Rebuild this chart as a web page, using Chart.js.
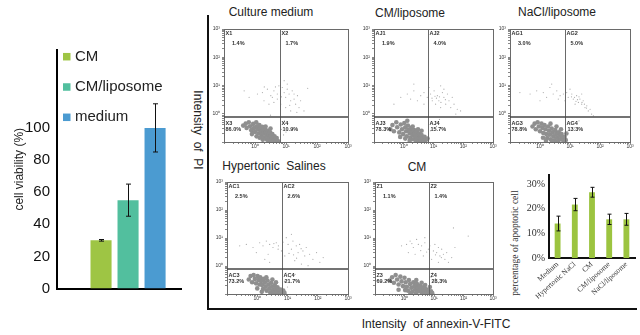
<!DOCTYPE html>
<html>
<head>
<meta charset="utf-8">
<title>Cell viability and apoptosis</title>
<script src="https://cdn.jsdelivr.net/npm/chart.js@4.4.1/dist/chart.umd.min.js"></script>
<style>
  html, body { margin: 0; padding: 0; background: #fff; }
  body { position: relative; width: 640px; height: 335px; overflow: hidden; font-family: "Liberation Sans", Arial, sans-serif; color: #222; }
  canvas { position: absolute; }
  .lbl { position: absolute; white-space: pre; transform: translate(-50%, -50%); font-size: 12px; line-height: 1; }
  .rule { position: absolute; background: #111; }
</style>
</head>
<body>
<div class="rule" style="left:207px;top:15px;width:2px;height:295px"></div>
<div class="rule" style="left:207px;top:308px;width:430px;height:2px"></div>
<div class="lbl" style="left:271px;top:12px">Culture medium</div>
<div class="lbl" style="left:410px;top:13px">CM/liposome</div>
<div class="lbl" style="left:557px;top:12px">NaCl/liposome</div>
<div class="lbl" style="left:274px;top:166px">Hypertonic  Salines</div>
<div class="lbl" style="left:417px;top:167px">CM</div>
<div class="lbl" style="left:198px;top:130px;transform:translate(-50%,-50%) rotate(90deg)">Intensity  of  PI</div>
<div class="lbl" style="left:436px;top:324px">Intensity  of annexin-V-FITC</div>
<div class="lbl" style="left:516px;top:243px;transform:translate(-50%,-50%) rotate(-90deg);font-family:'Liberation Serif',serif;font-size:9.5px;color:#333">percentage of apoptotic cell</div>
<script>
// ---- cell viability (left bar chart) ----
const viabilityLabels = ['CM', 'CM/liposome', 'medium'];
const viabilityValues = [30, 55, 100];
const viabilityErrors = [0.5, 10, 15];
const viabilityColors = ['#9ec544', '#52bf9e', '#4b9bd1'];
const viabilityTicks = [0, 20, 40, 60, 80, 100];

// ---- apoptosis inset bar chart ----
const insetLabels = ['Medium', 'Hypertonic NaCl', 'CM', 'CM/liposome', 'NaCl/liposome'];
const insetValues = [14, 21.7, 26.7, 15.7, 15.7];
const insetErrors = [3, 2.5, 2, 2.1, 2.4];
const insetTicks = [0, 5, 10, 15, 20, 25, 30];

// ---- flow cytometry plots, values in log10 units ----
const decadeValues = [0, 1, 2, 3];
const decadeLabels = ['10⁰', '10¹', '10²', '10³'];
const gateX = 0.82;
const gateY = -0.1;

const mediumNames = ['X1', 'X2', 'X3', 'X4'];
const mediumPct = ['1.4%', '1.7%', '86.0%', '10.9%'];
const mediumSparse = [[0.08,0.70],[0.24,0.75],[0.40,0.87],[0.51,0.64],[0.61,0.81],[0.72,0.70],[0.77,0.99],[0.88,0.93],[0.94,0.75],[0.99,0.58],[1.04,1.05],[1.10,0.70],[1.15,0.46],[1.20,0.81],[1.26,0.52],[1.31,0.34],[1.37,0.64],[1.42,0.22],[1.47,0.46],[0.29,0.46],[0.45,0.34],[0.61,0.40],[-0.35,0.81],[-0.19,0.58],[0.83,0.34],[0.99,0.22],[1.15,0.10],[1.26,0.70],[1.04,0.87],[0.94,1.17],[1.58,0.10],[0.56,0.58],[0.72,0.52],[0.95,-0.25],[1.05,-0.35],[1.35,0.05],[0.66,0.95],[1.12,0.30],[0.85,0.60],[0.30,0.95],[1.70,0.90],[0.50,-0.05],[0.85,-0.55],[0.92,-0.75],[1.00,-0.65]];
const mediumDense = [[-0.38,-0.42],[-0.30,-0.35],[-0.27,-0.50],[-0.20,-0.30],[-0.16,-0.44],[-0.12,-0.58],[-0.06,-0.36],[-0.03,-0.50],[0.00,-0.64],[0.04,-0.30],[0.06,-0.44],[0.09,-0.56],[0.11,-0.70],[0.14,-0.40],[0.16,-0.52],[0.19,-0.64],[0.21,-0.78],[0.23,-0.46],[0.26,-0.58],[0.28,-0.70],[0.30,-0.84],[0.33,-0.54],[0.35,-0.66],[0.37,-0.78],[0.39,-0.92],[0.41,-0.60],[0.43,-0.72],[0.45,-0.86],[0.47,-0.97],[0.49,-0.66],[0.51,-0.79],[0.53,-0.91],[0.56,-0.72],[0.58,-0.85],[0.60,-0.96],[0.63,-0.80],[0.66,-0.92],[0.70,-0.86],[0.74,-0.97],[0.25,-0.92],[0.15,-0.85],[0.34,-0.45],[0.50,-0.52],[-0.10,-0.72],[0.05,-0.80]];

const cmLipNames = ['AJ1', 'AJ2', 'AJ3', 'AJ4'];
const cmLipPct = ['1.9%', '4.0%', '78.3%', '15.7%'];
const cmLipSparse = [[0.12,0.70],[0.34,0.81],[0.57,0.64],[0.68,0.75],[0.79,0.58],[0.90,0.70],[1.02,0.81],[1.13,0.64],[1.18,0.46],[1.24,0.99],[1.30,0.75],[1.35,0.58],[1.41,0.34],[1.47,0.70],[1.52,0.46],[1.58,0.22],[1.69,0.34],[1.80,0.16],[0.46,0.46],[0.23,0.52],[-0.10,0.58],[-0.33,0.34],[1.07,0.34],[1.24,0.22],[0.96,0.46],[0.85,0.93],[0.68,0.34],[1.63,0.58],[1.75,-0.01],[1.91,0.10],[0.34,1.05],[1.35,0.87],[1.10,0.55],[1.20,0.60],[1.25,0.40],[1.05,0.62],[1.40,0.50],[0.95,0.55],[0.95,-0.30],[1.10,-0.45],[0.90,-0.60],[1.20,-0.20]];
const cmLipDense = [[-0.45,-0.55],[-0.38,-0.40],[-0.33,-0.62],[-0.25,-0.30],[-0.22,-0.48],[-0.15,-0.66],[-0.10,-0.38],[-0.06,-0.55],[-0.02,-0.72],[0.02,-0.33],[0.05,-0.48],[0.08,-0.62],[0.10,-0.80],[0.14,-0.42],[0.17,-0.57],[0.20,-0.70],[0.22,-0.86],[0.25,-0.50],[0.27,-0.64],[0.30,-0.76],[0.32,-0.90],[0.35,-0.58],[0.37,-0.70],[0.39,-0.82],[0.41,-0.95],[0.44,-0.64],[0.46,-0.77],[0.48,-0.89],[0.50,-0.99],[0.53,-0.70],[0.55,-0.82],[0.57,-0.94],[0.60,-0.75],[0.63,-0.87],[0.66,-0.97],[0.70,-0.82],[0.74,-0.93],[0.80,-0.88],[0.20,-0.95],[0.05,-0.88],[0.30,-0.45],[0.48,-0.55],[-0.12,-0.82],[0.12,-0.25],[0.60,-0.60]];

const naclLipNames = ['AG1', 'AG2', 'AG3', 'AG4'];
const naclLipPct = ['3.0%', '5.0%', '78.8%', '13.3%'];
const naclLipSparse = [[-0.67,0.75],[-0.33,0.70],[-0.11,0.81],[0.11,0.75],[0.33,0.93],[0.44,0.70],[0.56,0.81],[0.67,0.64],[0.78,0.70],[0.89,0.75],[0.94,0.58],[1.06,0.70],[1.11,0.52],[1.22,0.64],[1.28,0.40],[1.33,0.52],[1.39,0.34],[1.44,0.46],[1.50,0.22],[1.56,0.28],[1.61,0.10],[1.67,0.16],[1.72,-0.01],[0.22,0.58],[0.39,1.05],[0.61,0.52],[0.83,0.46],[1.17,0.34],[1.00,0.87],[1.39,0.70],[1.78,-0.07],[0.00,0.46],[1.15,0.58],[1.25,0.50],[1.30,0.60],[1.40,0.40],[1.48,0.34],[1.55,0.20],[1.20,0.44],[1.05,0.60],[1.00,-0.30],[1.15,-0.50],[0.92,-0.65],[1.30,-0.25]];
const naclLipDense = [[-0.25,-0.45],[-0.18,-0.35],[-0.14,-0.55],[-0.08,-0.30],[-0.04,-0.45],[0.00,-0.62],[0.05,-0.35],[0.08,-0.50],[0.11,-0.68],[0.15,-0.40],[0.18,-0.55],[0.21,-0.72],[0.24,-0.86],[0.27,-0.45],[0.30,-0.60],[0.33,-0.74],[0.36,-0.90],[0.39,-0.52],[0.42,-0.66],[0.45,-0.80],[0.48,-0.94],[0.51,-0.58],[0.54,-0.72],[0.57,-0.85],[0.60,-0.97],[0.63,-0.66],[0.66,-0.78],[0.69,-0.90],[0.72,-0.72],[0.75,-0.84],[0.78,-0.95],[0.82,-0.82],[0.86,-0.93],[0.35,-0.35],[0.55,-0.45],[0.20,-0.95],[0.40,-0.98],[0.10,-0.85],[0.70,-0.55],[0.88,-0.70]];

const hyperNames = ['AC1', 'AC2', 'AC3', 'AC4'];
const hyperPct = ['2.5%', '2.6%', '73.2%', '21.7%'];
const hyperSparse = [[-0.58,0.72],[-0.36,0.77],[-0.14,0.66],[0.08,0.83],[0.19,0.72],[0.30,0.89],[0.41,0.77],[0.52,0.66],[0.63,0.83],[0.69,0.60],[0.41,0.13],[0.36,0.42],[0.96,1.01],[1.02,0.77],[1.13,0.60],[1.18,0.89],[1.29,0.72],[1.35,0.48],[1.40,0.77],[1.51,0.54],[1.57,0.36],[1.62,0.66],[1.73,0.42],[1.84,0.24],[1.96,0.48],[2.07,0.13],[2.18,0.30],[0.91,0.36],[1.24,0.19],[1.46,0.07],[1.68,0.01],[1.13,1.13],[0.80,0.54],[-0.03,0.48],[0.25,0.24],[0.55,0.80],[0.70,0.72],[1.20,0.40],[1.45,0.62],[1.05,0.45],[0.85,0.85],[1.30,0.28],[0.95,-0.25],[1.10,-0.40],[0.90,-0.55],[1.25,-0.30],[1.00,-0.75]];
const hyperDense = [[-0.28,-0.48],[-0.22,-0.36],[-0.17,-0.58],[-0.12,-0.32],[-0.08,-0.46],[-0.04,-0.62],[0.01,-0.36],[0.04,-0.50],[0.07,-0.66],[0.10,-0.40],[0.13,-0.54],[0.16,-0.68],[0.19,-0.82],[0.22,-0.46],[0.25,-0.60],[0.28,-0.74],[0.31,-0.88],[0.34,-0.52],[0.37,-0.66],[0.40,-0.80],[0.43,-0.94],[0.46,-0.60],[0.49,-0.73],[0.52,-0.86],[0.55,-0.97],[0.58,-0.68],[0.61,-0.80],[0.64,-0.92],[0.67,-0.76],[0.70,-0.88],[0.73,-0.98],[0.77,-0.84],[0.81,-0.94],[0.86,-0.88],[0.90,-0.96],[0.30,-0.40],[0.50,-0.48],[0.15,-0.92],[0.00,-0.80],[0.62,-0.58]];

const cmNames = ['Z1', 'Z2', 'Z3', 'Z4'];
const cmPct = ['1.1%', '1.4%', '69.2%', '28.3%'];
const cmSparse = [[-0.10,0.72],[0.07,0.77],[0.19,0.89],[0.30,0.66],[0.41,0.95],[0.47,0.77],[0.58,0.72],[0.69,0.83],[0.81,0.60],[0.86,0.72],[0.98,0.54],[1.03,0.77],[1.09,0.48],[1.15,0.66],[1.20,0.36],[1.26,0.60],[1.32,0.42],[1.37,0.24],[1.43,0.48],[1.49,0.13],[1.60,0.30],[1.66,1.36],[1.71,0.66],[2.16,1.07],[0.36,0.42],[0.64,0.36],[0.92,0.24],[0.13,0.48],[1.15,0.13],[0.69,1.01],[0.55,0.55],[0.75,0.50],[1.25,0.30],[1.05,0.40],[0.25,0.80],[0.95,-0.25],[1.05,-0.45],[0.90,-0.40],[1.15,-0.60]];
const cmDense = [[-0.50,-0.52],[-0.42,-0.40],[-0.36,-0.60],[-0.30,-0.32],[-0.25,-0.48],[-0.20,-0.66],[-0.14,-0.38],[-0.10,-0.55],[-0.05,-0.72],[0.00,-0.42],[0.04,-0.58],[0.08,-0.74],[0.12,-0.88],[0.15,-0.50],[0.19,-0.64],[0.23,-0.78],[0.26,-0.92],[0.30,-0.58],[0.33,-0.72],[0.36,-0.84],[0.39,-0.97],[0.42,-0.64],[0.45,-0.78],[0.48,-0.90],[0.52,-0.70],[0.55,-0.82],[0.58,-0.94],[0.62,-0.76],[0.65,-0.88],[0.68,-0.98],[0.72,-0.82],[0.76,-0.93],[0.80,-0.86],[0.85,-0.95],[0.90,-0.90],[0.94,-0.97],[0.40,-0.50],[0.58,-0.60],[0.20,-0.98],[0.02,-0.86],[-0.20,-0.85],[0.70,-0.68],[0.86,-0.75]];

Chart.defaults.font.family = '"Liberation Sans", Arial, sans-serif';
Chart.defaults.animation = false;
Chart.defaults.responsive = false;
Chart.defaults.plugins.legend.display = false;
Chart.defaults.plugins.tooltip.enabled = false;

function place(x, y, w, h) {
  const c = document.createElement('canvas');
  c.width = w; c.height = h;
  c.style.left = x + 'px'; c.style.top = y + 'px';
  c.style.width = w + 'px'; c.style.height = h + 'px';
  document.body.appendChild(c);
  return c;
}

// vertical error bars with caps, read from dataset.errors
const errorBars = {
  id: 'errorBars',
  afterDatasetsDraw(chart, args, o) {
    const {ctx, scales: {y}} = chart;
    ctx.save();
    ctx.strokeStyle = o.color;
    ctx.lineWidth = o.lineWidth;
    chart.data.datasets.forEach((ds, i) => {
      const meta = chart.getDatasetMeta(i);
      meta.data.forEach((bar, j) => {
        const v = meta.controller.getParsed(j).y;
        const e = ds.errors[j];
        const top = y.getPixelForValue(v + e), bot = y.getPixelForValue(v - e);
        const x = Math.round(bar.x) + 0.5;
        ctx.beginPath();
        ctx.moveTo(x, top); ctx.lineTo(x, bot);
        ctx.moveTo(x - o.cap, top); ctx.lineTo(x + o.cap, top);
        ctx.moveTo(x - o.cap, bot); ctx.lineTo(x + o.cap, bot);
        ctx.stroke();
      });
    });
    ctx.restore();
  }
};

// legend drawn inside the plot, one coloured square per dataset
const boxLegend = {
  id: 'boxLegend',
  afterDraw(chart, args, o) {
    const ctx = chart.ctx;
    ctx.save();
    ctx.font = o.font;
    ctx.textBaseline = 'middle';
    chart.data.datasets.forEach((ds, i) => {
      const cy = o.y + i * o.step;
      ctx.fillStyle = ds.backgroundColor;
      ctx.fillRect(o.x, cy - o.box / 2, o.box, o.box);
      ctx.fillStyle = o.color;
      ctx.fillText(ds.label, o.x + o.box + 4.5, cy);
    });
    ctx.restore();
  }
};

// frame, quadrant gates and quadrant percentages of a flow plot
const flowFrame = {
  id: 'flowFrame',
  afterDatasetsDraw(chart, args, o) {
    const {ctx, chartArea: a, scales: {x, y}} = chart;
    const gx = Math.round(x.getPixelForValue(o.gateX)) + 0.5;
    const gy = Math.round(y.getPixelForValue(o.gateY));
    ctx.save();
    ctx.strokeStyle = '#6a6a6a';
    ctx.lineWidth = 1;
    ctx.strokeRect(Math.round(a.left) + 0.5, Math.round(a.top) + 0.5, Math.round(a.width), Math.round(a.height));
    ctx.beginPath(); ctx.moveTo(gx, a.top); ctx.lineTo(gx, a.bottom); ctx.stroke();
    ctx.strokeStyle = '#454545';
    ctx.lineWidth = 1.6;
    ctx.beginPath(); ctx.moveTo(a.left, gy); ctx.lineTo(a.right, gy); ctx.stroke();
    ctx.fillStyle = '#333';
    ctx.font = 'bold 5.5px "Liberation Sans", Arial, sans-serif';
    ctx.textBaseline = 'top';
    const [n1, n2, n3, n4] = o.names;
    const [p1, p2, p3, p4] = o.pct;
    ctx.fillText(n1, a.left + 1.5, a.top + 1.5);
    ctx.fillText(p1, a.left + 8, a.top + 12);
    ctx.fillText(n2, gx + 1, a.top + 1.5);
    ctx.fillText(p2, gx + 5, a.top + 12);
    ctx.fillText(n3, a.left + 1.5, gy + 4);
    ctx.fillText(p3, a.left + 1.5, gy + 10);
    ctx.fillText(n4, gx + 1, gy + 4);
    ctx.fillText(p4, gx + 2, gy + 10);
    ctx.restore();
  }
};

// major ticks at each decade plus minor ticks in between
function logTicks() {
  const t = [];
  for (let d = -1; d < 3; d++) {
    for (let k = 1; k < 10; k++) t.push({value: d + Math.log10(k)});
  }
  t.push({value: 3});
  return t;
}

function flowPanel(frame, sparse, dense, names, pct) {
  const [l, t, r, b] = frame;
  const padL = 18, padT = 4, padR = 6, padB = 12;
  const tickFmt = v => {
    const i = decadeValues.indexOf(v);
    return i < 0 ? '' : decadeLabels[i];
  };
  const grid = {drawOnChartArea: false, tickLength: 2, color: '#555', lineWidth: 0.7};
  new Chart(place(l - padL, t - padT, r - l + padL + padR, b - t + padT + padB), {
    type: 'scatter',
    data: {
      datasets: [
        {data: sparse, pointRadius: 0.6, backgroundColor: '#aaaaaa', borderWidth: 0},
        {data: dense, pointRadius: 2.3, backgroundColor: '#8f8f8f', borderWidth: 0}
      ]
    },
    plugins: [flowFrame],
    options: {
      layout: {padding: {top: padT, right: padR, left: 0, bottom: 0}},
      scales: {
        x: {
          min: -1, max: 3,
          afterBuildTicks: s => { s.ticks = logTicks(); },
          afterFit: s => { s.height = padB; },
          ticks: {font: {size: 5}, color: '#333', autoSkip: false, maxRotation: 0, padding: 0, callback: tickFmt},
          grid: grid,
          border: {display: false}
        },
        y: {
          min: -1, max: 3,
          afterBuildTicks: s => { s.ticks = logTicks(); },
          afterFit: s => { s.width = padL; },
          ticks: {font: {size: 5}, color: '#333', autoSkip: false, padding: 2, callback: tickFmt},
          grid: grid,
          border: {display: false}
        }
      },
      plugins: {flowFrame: {gateX: gateX, gateY: gateY, names: names, pct: pct}}
    }
  });
}

// left: cell viability bars
new Chart(place(0, 0, 200, 310), {
  type: 'bar',
  data: {
    datasets: viabilityLabels.map((label, i) => ({
      label: label,
      data: [{x: i + 1, y: viabilityValues[i]}],
      errors: [viabilityErrors[i]],
      backgroundColor: viabilityColors[i]
    }))
  },
  plugins: [errorBars, boxLegend],
  options: {
    layout: {padding: {top: 50, right: 19, bottom: 21.5, left: 0}},
    datasets: {bar: {grouped: false, categoryPercentage: 1, barPercentage: 0.78}},
    scales: {
      x: {
        type: 'linear', min: -0.63, max: 3.96, offset: false,
        afterBuildTicks: s => { s.ticks = viabilityLabels.map((_, i) => ({value: i + 1})); },
        afterFit: s => { s.height = 0; },
        ticks: {display: false},
        grid: {display: false, drawTicks: false},
        border: {display: true, color: '#000', width: 2}
      },
      y: {
        min: 0, max: 148.5,
        afterBuildTicks: s => { s.ticks = viabilityTicks.map(v => ({value: v})); },
        afterFit: s => { s.width = 57; },
        ticks: {color: '#111', font: {size: 15}, padding: 7},
        grid: {display: false, drawTicks: false},
        border: {display: true, color: '#000', width: 2},
        title: {display: true, text: 'cell viability (%)', color: '#222', font: {size: 12}, padding: {top: 12, bottom: 0}}
      }
    },
    plugins: {
      errorBars: {color: '#111', lineWidth: 1, cap: 2.5},
      boxLegend: {x: 63, y: 56.7, step: 30.3, box: 7.5, font: '15px "Liberation Sans", Arial, sans-serif', color: '#222'}
    }
  }
});

// flow cytometry plots
flowPanel([224, 28, 348, 142], mediumSparse, mediumDense, mediumNames, mediumPct);
flowPanel([374, 28, 493, 142], cmLipSparse, cmLipDense, cmLipNames, cmLipPct);
flowPanel([510, 28, 630, 142], naclLipSparse, naclLipDense, naclLipNames, naclLipPct);
flowPanel([227, 181, 348, 294], hyperSparse, hyperDense, hyperNames, hyperPct);
flowPanel([375, 181, 493, 294], cmSparse, cmDense, cmNames, cmPct);

// inset: percentage of apoptotic cells
const serif = '"Liberation Serif", "Times New Roman", serif';
new Chart(place(495, 165, 145, 140), {
  type: 'bar',
  data: {
    labels: insetLabels,
    datasets: [{data: insetValues, errors: insetErrors, backgroundColor: '#9cc440', categoryPercentage: 1, barPercentage: 0.34}]
  },
  plugins: [errorBars],
  options: {
    layout: {padding: {top: 8, right: 5, left: 0, bottom: 0}},
    scales: {
      x: {
        afterFit: s => { s.height = 47; },
        ticks: {font: {family: serif, size: 7.5}, color: '#333', minRotation: 42, maxRotation: 42, autoSkip: false, padding: 2},
        grid: {display: false, drawTicks: false},
        border: {display: true, color: '#111', width: 2}
      },
      y: {
        min: 0, max: 33.7,
        afterBuildTicks: s => { s.ticks = insetTicks.map(v => ({value: v})); },
        afterFit: s => { s.width = 54; },
        ticks: {font: {family: serif, size: 10}, color: '#333', padding: 4, callback: v => v + '%'},
        grid: {display: false, drawTicks: false},
        border: {display: true, color: '#111', width: 2}
      }
    },
    plugins: {errorBars: {color: '#111', lineWidth: 1, cap: 2}}
  }
});
</script>
</body>
</html>
